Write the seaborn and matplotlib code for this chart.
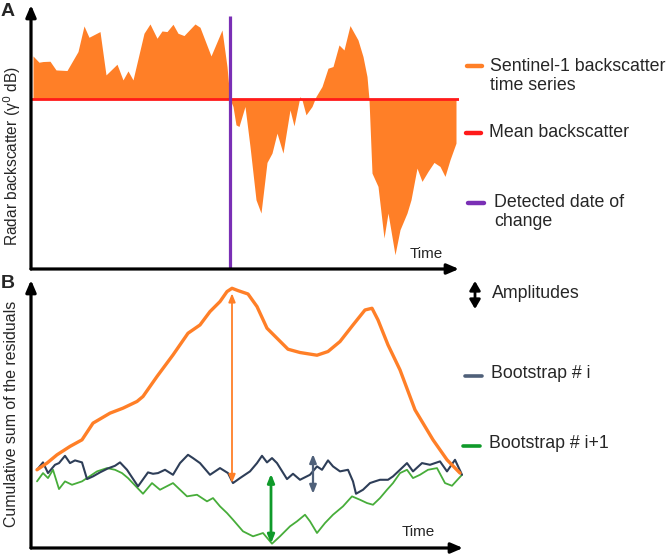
import numpy as np
import pandas as pd
import matplotlib
matplotlib.use("Agg")
import matplotlib.pyplot as plt
from matplotlib.lines import Line2D
import seaborn as sns

# ---------------- data ----------------
# Panel A: Sentinel-1 backscatter time series (dB) and its mean
time_a = [2, 8, 12, 19, 25, 36, 47, 53, 58, 69, 75, 86, 92, 97, 102, 113, 119, 126,
          131, 136, 142, 147, 153, 164, 169, 180, 191, 196, 199, 202, 205, 208, 214,
          219, 225, 230, 236, 241, 246, 252, 259, 263, 269, 271, 275, 281, 285, 291,
          297, 302, 308, 313, 319, 327, 332, 336, 338, 341, 347, 353, 357, 364, 369,
          376, 380, 386, 391, 397, 403, 409, 414, 419, 425]
backscatter = [-7.67, -8.30, -8.23, -8.20, -9.07, -9.13, -7.23, -4.67, -5.80, -5.23,
               -9.57, -8.50, -10.07, -9.17, -10.07, -5.40, -4.47, -5.90, -5.17, -5.23,
               -4.50, -5.40, -5.63, -4.47, -4.80, -7.67, -5.07, -8.73, -12.00, -12.73,
               -14.57, -14.73, -12.73, -16.73, -22.07, -23.40, -18.33, -17.40, -15.40,
               -17.40, -13.07, -14.67, -11.73, -12.07, -13.57, -12.73, -11.73, -10.73,
               -8.90, -8.73, -6.57, -7.07, -4.63, -6.07, -7.73, -9.73, -12.00, -19.40,
               -20.73, -25.90, -23.40, -27.57, -25.07, -23.40, -22.07, -18.90, -20.23,
               -19.23, -18.33, -18.73, -19.73, -18.07, -16.40]
mean_backscatter = -12.0
change_date = 199

# Panel B: cumulative sum of residuals, original and two bootstraps
time_orig = [6, 16, 26, 39, 51, 62, 79, 92, 106, 112, 126, 142, 157, 169, 179, 189,
             196, 201, 207, 217, 226, 236, 246, 257, 269, 286, 297, 309, 322, 334,
             341, 347, 357, 369, 384, 402, 416, 429]
cusum_orig = [0.33, 1.00, 1.83, 2.67, 3.33, 5.00, 6.00, 6.50, 7.17, 7.67, 9.67, 11.83,
              14.00, 14.83, 16.17, 17.17, 18.17, 18.50, 18.27, 17.93, 16.67, 14.50,
              13.50, 12.40, 12.07, 11.80, 12.17, 13.17, 14.83, 16.33, 16.50, 15.33,
              12.83, 10.33, 6.33, 3.33, 1.33, 0.00]

time_boot_i = [6, 12, 17, 24, 28, 34, 39, 44, 51, 56, 62, 69, 77, 84, 89, 96, 107,
               117, 122, 127, 134, 142, 149, 157, 162, 169, 179, 189, 197, 202, 209,
               219, 226, 231, 236, 241, 246, 256, 262, 269, 279, 286, 291, 297, 302,
               309, 317, 322, 325, 332, 339, 344, 349, 357, 362, 369, 376, 382, 391,
               399, 409, 416, 424, 431]
cusum_boot_i = [0.33, 1.07, 0.00, 0.83, 1.00, 1.73, 1.00, 1.27, 1.07, -0.60, -0.33,
                0.07, 0.47, 0.73, 1.07, 0.33, -1.33, 0.07, -0.07, 0.00, 0.33, -0.17,
                1.00, 1.83, 1.50, 1.00, -0.17, 0.50, 0.00, -1.00, -0.50, 0.17, 1.00,
                1.73, 1.07, 1.50, 1.00, -0.60, -0.07, -0.67, -0.17, 0.67, 0.33, 1.27,
                0.67, 0.17, 0.33, -0.83, -2.07, -1.67, -1.00, -0.83, -0.67, -0.67,
                -0.33, 0.33, 1.00, 0.17, 1.00, 0.83, 1.17, 0.17, 1.33, -0.17]

time_boot_i1 = [6, 12, 17, 22, 28, 34, 41, 51, 66, 76, 84, 91, 97, 112, 121, 129, 142,
                156, 166, 176, 182, 189, 196, 202, 212, 222, 232, 241, 249, 259, 266,
                274, 279, 286, 294, 302, 312, 321, 329, 336, 342, 349, 356, 362, 369,
                376, 382, 389, 397, 406, 414, 421, 431]
cusum_boot_i1 = [-0.83, 0.00, -0.50, 0.33, -1.60, -0.83, -1.17, -0.83, 0.17, 0.50,
                 0.33, 0.00, -0.50, -2.07, -1.00, -1.67, -1.00, -2.33, -2.17, -2.83,
                 -2.50, -3.33, -4.00, -4.67, -5.83, -6.33, -6.00, -7.07, -6.33, -5.33,
                 -4.83, -4.17, -4.83, -6.00, -5.00, -4.17, -3.33, -2.33, -2.67, -3.00,
                 -3.17, -2.50, -1.67, -1.00, 0.00, 0.33, -0.50, -0.17, 0.33, 0.50,
                 -1.00, -1.27, -0.17]

# Amplitude arrows: position, low end, high end
amp_time = [201, 282, 240]
amp_low = [-1.00, -2.07, -7.07]
amp_high = [18.00, 1.90, -0.07]

legend_a = ["Sentinel-1 backscatter\ntime series", "Mean backscatter",
            "Detected date of\nchange"]
legend_b = ["Amplitudes", "Bootstrap # i", "Bootstrap # i+1"]

# ---------------- styling ----------------
ORANGE = "#FF7F27"
RED = "#FF1A1A"
PURPLE = "#7A2FB5"
NAVY = "#2E3E58"
NAVY_ARROW = "#4F6079"
GREEN = "#47AD3A"
GREEN_ARROW = "#0F9A2A"

sns.set_style("white")
plt.rcParams["font.family"] = ["Liberation Sans", "DejaVu Sans"]

W, H = 671, 557
fig = plt.figure(figsize=(W / 100, H / 100), dpi=100)


def axes_px(left, top, right, bottom):
    return fig.add_axes([left / W, 1 - bottom / H, (right - left) / W, (bottom - top) / H])


def axis_arrows(ax):
    kw = dict(arrowstyle="-|>,head_length=0.7,head_width=0.3", lw=2.3, color="black",
              shrinkA=0, shrinkB=0)
    ax.annotate("", xy=(1, 0), xytext=(0, 0), xycoords="axes fraction",
                arrowprops=kw, annotation_clip=False)
    ax.annotate("", xy=(0, 1), xytext=(0, 0), xycoords="axes fraction",
                arrowprops=kw, annotation_clip=False)
    for s in ax.spines.values():
        s.set_visible(False)
    ax.set_xticks([])
    ax.set_yticks([])
    ax.set_xlabel("")
    ax.set_ylabel("")
    ax.patch.set_alpha(0)


# ---------------- Panel A ----------------
axA = axes_px(31, 5, 459, 269)
ta = np.array(time_a)
ba = np.array(backscatter)
axA.fill_between(ta, ba, mean_backscatter, color=ORANGE, lw=0, interpolate=True)
df_mean = pd.DataFrame({"t": [0, 428], "v": [mean_backscatter, mean_backscatter]})
sns.lineplot(data=df_mean, x="t", y="v", ax=axA, color=RED, lw=2.0)
axA.vlines(change_date, -29.0, -3.63, color=PURPLE, lw=2.3)
axA.set_xlim(0, 428)
axA.set_ylim(-29.0, -2.57)
axis_arrows(axA)
axA.text(379, -27.5, "Time", fontsize=11, va="center", ha="left")

# ---------------- Panel B ----------------
axB = axes_px(31, 280, 463, 548)
df_o = pd.DataFrame({"t": time_orig, "v": cusum_orig})
df_i = pd.DataFrame({"t": time_boot_i, "v": cusum_boot_i})
df_i1 = pd.DataFrame({"t": time_boot_i1, "v": cusum_boot_i1})
sns.lineplot(data=df_i1, x="t", y="v", ax=axB, color=GREEN, lw=1.3)
sns.lineplot(data=df_i, x="t", y="v", ax=axB, color=NAVY, lw=1.5)
sns.lineplot(data=df_o, x="t", y="v", ax=axB, color=ORANGE, lw=2.4)
arrow_cols = [ORANGE, NAVY_ARROW, GREEN_ARROW]
arrow_lw = [1.3, 1.6, 2.0]
for t, lo, hi, c, lw in zip(amp_time, amp_low, amp_high, arrow_cols, arrow_lw):
    axB.annotate("", xy=(t, hi), xytext=(t, lo),
                 arrowprops=dict(arrowstyle="<|-|>,head_length=0.5,head_width=0.2",
                                 lw=lw, color=c, shrinkA=0, shrinkB=0))
axB.set_xlim(0, 432)
axB.set_ylim(-7.5, 19.33)
axis_arrows(axB)
axB.text(371, -5.85, "Time", fontsize=11, va="center", ha="left")

# ---------------- Panel letters & y labels ----------------
fig.text(1 / W, 1 - 12 / H, "A", fontsize=14, fontweight="bold", va="center", ha="left")
fig.text(1 / W, 1 - 284 / H, "B", fontsize=14, fontweight="bold", va="center", ha="left")
fig.text(12 / W, 1 - 156 / H, "Radar backscatter (γ$^0$ dB)", rotation=90,
         fontsize=11.2, va="center", ha="center")
fig.text(12 / W, 1 - 414 / H, "Cumulative sum of the residuals", rotation=90,
         fontsize=11.4, va="center", ha="center")

# ---------------- side legends ----------------
LFS = 12.8


def dash(x0, x1, y, color, lw=3.2):
    fig.add_artist(Line2D([x0 / W, x1 / W], [1 - y / H, 1 - y / H], color=color,
                          lw=lw, transform=fig.transFigure))


dash(467, 482, 66, ORANGE)
fig.text(490 / W, 1 - 76 / H, legend_a[0], fontsize=LFS, va="center", ha="left",
         linespacing=1.15)
dash(466, 481, 133, RED)
fig.text(489 / W, 1 - 133 / H, legend_a[1], fontsize=LFS, va="center", ha="left")
dash(468, 484, 203, PURPLE)
fig.text(494 / W, 1 - 212 / H, legend_a[2], fontsize=LFS, va="center", ha="left",
         linespacing=1.15)

fig.add_artist(matplotlib.patches.FancyArrowPatch(
    (475 / W, 1 - 309 / H), (475 / W, 1 - 281 / H), transform=fig.transFigure,
    arrowstyle="<|-|>,head_length=0.6,head_width=0.35", lw=2.0, color="black",
    shrinkA=0, shrinkB=0, mutation_scale=9))
fig.text(492 / W, 1 - 294 / H, legend_b[0], fontsize=LFS, va="center", ha="left")
dash(465, 482, 376, NAVY_ARROW, lw=2.6)
fig.text(491 / W, 1 - 374 / H, legend_b[1], fontsize=LFS, va="center", ha="left")
dash(463, 480, 446, GREEN_ARROW, lw=2.6)
fig.text(489 / W, 1 - 443 / H, legend_b[2], fontsize=LFS, va="center", ha="left")

fig.savefig("out.png", dpi=100)
